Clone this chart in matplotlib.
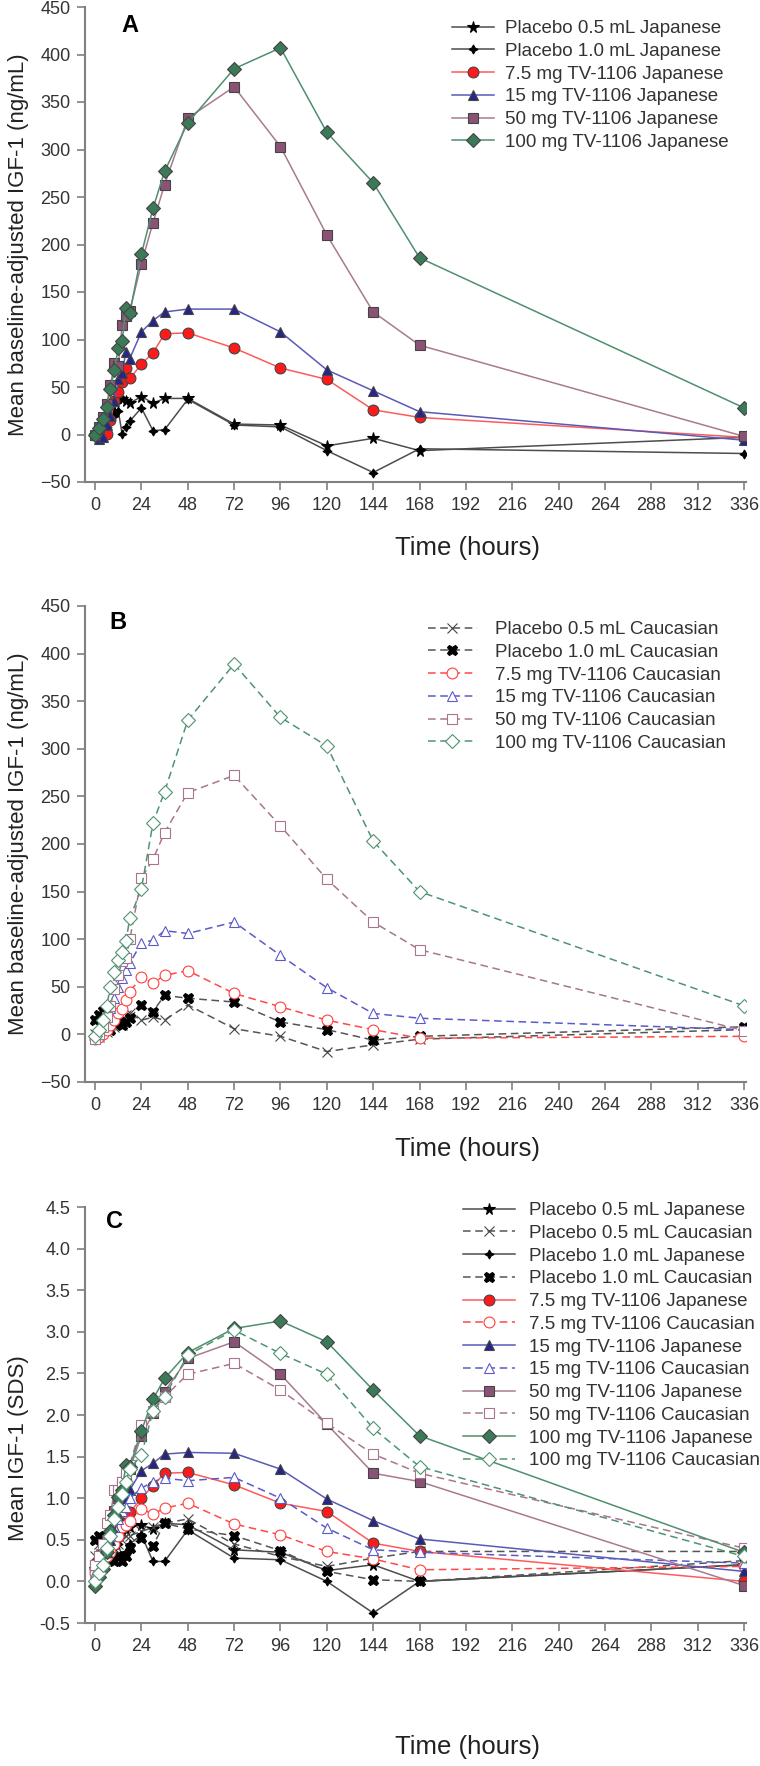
import matplotlib
matplotlib.use("Agg")
import matplotlib.pyplot as plt

plt.rcParams['font.family'] = ['Liberation Sans', 'DejaVu Sans']

# sampling times (hours)
hours = [0, 2, 4, 6, 8, 10, 12, 14, 16, 18, 24, 30, 36, 48, 72, 96, 120, 144, 168, 336]

# Panel A - Japanese, baseline-adjusted IGF-1 (ng/mL)
a_pl05 = [0, 3, 8, 12, 20, 25, 38, 37, 35, 33, 40, 33, 38, 38, 11, 10, -12, -4, -17, -3]
a_pl10 = [0, -2, 2, 8, 15, 20, 25, 1, 8, 14, 28, 4, 5, 37, 10, 8, -17, -40, -15, -20]
a_75 = [0, -3, 0, 1, 15, 35, 45, 55, 70, 59, 74, 86, 106, 107, 91, 70, 58, 26, 18, -3]
a_15 = [0, -5, -3, 10, 20, 35, 58, 65, 87, 80, 108, 120, 129, 132, 132, 108, 68, 46, 24, -6]
a_50 = [0, 8, 18, 32, 52, 75, 72, 115, 125, 130, 180, 223, 263, 333, 366, 303, 210, 129, 94, -2]
a_100 = [0, 7, 16, 29, 48, 68, 91, 98, 133, 128, 190, 238, 277, 328, 385, 407, 318, 265, 186, 28]

# Panel B - Caucasian, baseline-adjusted IGF-1 (ng/mL)
b_pl05 = [0, -3, 5, 2, 10, 8, 15, 10, 20, 22, 15, 18, 15, 31, 6, -2, -18, -11, -5, 5]
b_pl10 = [15, 20, 25, 10, 5, 12, 14, 10, 13, 17, 31, 24, 41, 38, 34, 13, 5, -6, -2, 8]
b_75 = [-5, -3, 0, 5, 10, 15, 22, 27, 36, 45, 60, 54, 62, 67, 43, 29, 15, 5, -4, -2]
b_15 = [0, 5, 10, 18, 28, 38, 50, 59, 68, 75, 96, 99, 109, 106, 118, 83, 49, 22, 17, 5]
b_50 = [-5, 0, 8, 18, 30, 48, 62, 77, 80, 100, 164, 184, 212, 254, 272, 219, 163, 118, 89, 4]
b_100 = [-2, 5, 15, 30, 50, 66, 78, 87, 98, 122, 153, 222, 255, 330, 389, 333, 303, 203, 150, 30]

# Panel C - IGF-1 SDS, both populations
c_pl05_jp = [0.15, 0.25, 0.3, 0.35, 0.4, 0.45, 0.55, 0.6, 0.62, 0.65, 0.68, 0.63, 0.70, 0.68, 0.38, 0.35, 0.13, 0.20, 0.0, 0.2]
c_pl05_ca = [0.3, 0.45, 0.4, 0.3, 0.35, 0.4, 0.45, 0.5, 0.55, 0.55, 0.60, 0.65, 0.70, 0.75, 0.45, 0.30, 0.18, 0.28, 0.36, 0.36]
c_pl10_jp = [0.1, 0.05, 0.15, 0.25, 0.35, 0.4, 0.45, 0.3, 0.35, 0.45, 0.56, 0.24, 0.24, 0.62, 0.28, 0.26, 0.0, -0.38, 0.0, 0.2]
c_pl10_ca = [0.5, 0.55, 0.45, 0.35, 0.3, 0.25, 0.3, 0.25, 0.3, 0.4, 0.52, 0.43, 0.70, 0.63, 0.55, 0.37, 0.12, 0.02, 0.0, 0.25]
c_75_jp = [0.15, 0.2, 0.25, 0.3, 0.4, 0.5, 0.6, 0.7, 0.85, 0.83, 1.00, 1.15, 1.30, 1.31, 1.16, 0.94, 0.84, 0.46, 0.36, 0.0]
c_75_ca = [0.1, 0.15, 0.2, 0.3, 0.35, 0.45, 0.55, 0.65, 0.68, 0.72, 0.87, 0.81, 0.88, 0.94, 0.69, 0.56, 0.36, 0.27, 0.14, 0.18]
c_15_jp = [0.05, 0.1, 0.2, 0.35, 0.5, 0.65, 0.8, 0.9, 1.0, 1.10, 1.33, 1.42, 1.53, 1.55, 1.54, 1.35, 0.99, 0.73, 0.51, 0.12]
c_15_ca = [0.1, 0.15, 0.25, 0.4, 0.55, 0.65, 0.75, 0.85, 0.9, 1.0, 1.12, 1.20, 1.24, 1.21, 1.25, 1.00, 0.64, 0.38, 0.35, 0.22]
c_50_jp = [0.2, 0.3, 0.4, 0.5, 0.65, 0.85, 1.0, 1.2, 1.25, 1.35, 1.75, 2.02, 2.28, 2.68, 2.88, 2.49, 1.89, 1.30, 1.20, -0.05]
c_50_ca = [0.2, 0.3, 0.45, 0.7, 0.8, 1.1, 1.1, 1.2, 1.3, 1.4, 1.88, 2.05, 2.22, 2.49, 2.62, 2.30, 1.90, 1.53, 1.30, 0.40]
c_100_jp = [-0.05, 0.05, 0.15, 0.35, 0.6, 0.8, 1.02, 1.1, 1.4, 1.38, 1.81, 2.19, 2.44, 2.75, 3.04, 3.13, 2.88, 2.30, 1.75, 0.35]
c_100_ca = [0.0, 0.1, 0.2, 0.4, 0.55, 0.75, 0.9, 1.05, 1.2, 1.35, 1.52, 2.05, 2.22, 2.72, 3.02, 2.74, 2.49, 1.84, 1.38, 0.30]

xticks = [0, 24, 48, 72, 96, 120, 144, 168, 192, 216, 240, 264, 288, 312, 336]

# styles: (line colour, marker, face colour, edge colour, marker size)
jp_style = {
    'pl05': ('#4d4d4d', '*', 'black', 'black', 8.5),
    'pl10': ('#4d4d4d', (4, 1, 0), 'black', 'black', 6.5),
    '75': ('#ff5a5a', 'o', '#ff1a1a', '#444444', 7.8),
    '15': ('#5a5ab8', '^', '#25258a', '#444444', 7.8),
    '50': ('#a87a92', 's', '#8a5275', '#444444', 7),
    '100': ('#4f8f6e', 'D', '#3a7a58', '#444444', 7),
}
ca_style = {
    'pl05': ('#555555', 'x', 'none', '#444444', 6.5),
    'pl10': ('#555555', 'X', 'black', 'black', 7.5),
    '75': ('#ff4848', 'o', 'white', '#ff4040', 7.8),
    '15': ('#5a5ac8', '^', 'white', '#5a5ac8', 7.8),
    '50': ('#a8768f', 's', 'white', '#a8748f', 7),
    '100': ('#4f9470', 'D', 'white', '#4f9470', 7),
}
DASH = (5, 3)


def draw(ax, y, st, label, dashed):
    lc, mk, fc, ec, ms = st
    ln, = ax.plot(hours, y, color=lc, lw=1.1, marker=mk, markersize=ms,
                  markerfacecolor=fc, markeredgecolor=ec, markeredgewidth=0.8,
                  label=label)
    if dashed:
        ln.set_dashes(DASH)
    return ln


def style_axes(ax, ylim, yticks, ylabel, xlab_y, ylab_y=0.5, fmt=None):
    ax.set_xlim(-5.2, 337)
    ax.set_ylim(*ylim)
    ax.set_xticks(xticks)
    ax.set_yticks(yticks)
    if fmt:
        ax.set_yticklabels([fmt % v for v in yticks])
    for s in ['top', 'right']:
        ax.spines[s].set_visible(False)
    for s in ['left', 'bottom']:
        ax.spines[s].set_color('#808080')
        ax.spines[s].set_linewidth(1.5)
    ax.tick_params(direction='out', length=5.5, width=1.2, color='#808080',
                   labelsize=13, labelcolor='#333333', pad=5)
    ax.set_xlabel('Time (hours)', fontsize=18.5, color='#222222', va='center')
    ax.xaxis.set_label_coords(0.579, xlab_y)
    ax.set_ylabel(ylabel, fontsize=16, color='#222222', va='center')
    ax.yaxis.set_label_coords(-0.1, ylab_y)


fig = plt.figure(figsize=(7.6, 17.66), dpi=100)
W, H = 760.0, 1766.0


def add_axes(top, bottom):
    return fig.add_axes([85 / W, 1 - bottom / H, (746 - 85) / W, (bottom - top) / H])


def add_legend(ax, x0, y0, hl, htp):
    fig.legend(handles=ax.get_lines(), loc='upper left', bbox_to_anchor=(x0 / W, 1 - y0 / H),
               frameon=False, fontsize=13.5, handlelength=hl, handletextpad=htp,
               labelspacing=0.3, borderpad=0, borderaxespad=0, labelcolor='#333333')


# ---- Panel A
ax = add_axes(7, 482)
draw(ax, a_pl05, jp_style['pl05'], 'Placebo 0.5 mL Japanese', False)
draw(ax, a_pl10, jp_style['pl10'], 'Placebo 1.0 mL Japanese', False)
draw(ax, a_75, jp_style['75'], '7.5 mg TV-1106 Japanese', False)
draw(ax, a_15, jp_style['15'], '15 mg TV-1106 Japanese', False)
draw(ax, a_50, jp_style['50'], '50 mg TV-1106 Japanese', False)
draw(ax, a_100, jp_style['100'], '100 mg TV-1106 Japanese', False)
style_axes(ax, (-50, 450), list(range(-50, 451, 50)),
           'Mean baseline-adjusted IGF-1 (ng/mL)', -0.139)
ax.text(0.068, 0.962, 'A', transform=ax.transAxes, fontsize=17, fontweight='bold',
        ha='center', va='center')
add_legend(ax, 452, 20, 2.25, 0.6)

# ---- Panel B
ax = add_axes(606, 1082)
draw(ax, b_pl05, ca_style['pl05'], 'Placebo 0.5 mL Caucasian', True)
draw(ax, b_pl10, ca_style['pl10'], 'Placebo 1.0 mL Caucasian', True)
draw(ax, b_75, ca_style['75'], '7.5 mg TV-1106 Caucasian', True)
draw(ax, b_15, ca_style['15'], '15 mg TV-1106 Caucasian', True)
draw(ax, b_50, ca_style['50'], '50 mg TV-1106 Caucasian', True)
draw(ax, b_100, ca_style['100'], '100 mg TV-1106 Caucasian', True)
style_axes(ax, (-50, 450), list(range(-50, 451, 50)),
           'Mean baseline-adjusted IGF-1 (ng/mL)', -0.140)
ax.text(0.05, 0.966, 'B', transform=ax.transAxes, fontsize=17, fontweight='bold',
        ha='center', va='center')
add_legend(ax, 428, 621, 2.6, 0.95)

# ---- Panel C
ax = add_axes(1207, 1623)
draw(ax, c_pl05_jp, jp_style['pl05'], 'Placebo 0.5 mL Japanese', False)
draw(ax, c_pl05_ca, ca_style['pl05'], 'Placebo 0.5 mL Caucasian', True)
draw(ax, c_pl10_jp, jp_style['pl10'], 'Placebo 1.0 mL Japanese', False)
draw(ax, c_pl10_ca, ca_style['pl10'], 'Placebo 1.0 mL Caucasian', True)
draw(ax, c_75_jp, jp_style['75'], '7.5 mg TV-1106 Japanese', False)
draw(ax, c_75_ca, ca_style['75'], '7.5 mg TV-1106 Caucasian', True)
draw(ax, c_15_jp, jp_style['15'], '15 mg TV-1106 Japanese', False)
draw(ax, c_15_ca, ca_style['15'], '15 mg TV-1106 Caucasian', True)
draw(ax, c_50_jp, jp_style['50'], '50 mg TV-1106 Japanese', False)
draw(ax, c_50_ca, ca_style['50'], '50 mg TV-1106 Caucasian', True)
draw(ax, c_100_jp, jp_style['100'], '100 mg TV-1106 Japanese', False)
draw(ax, c_100_ca, ca_style['100'], '100 mg TV-1106 Caucasian', True)
cticks = [-0.5, 0.0, 0.5, 1.0, 1.5, 2.0, 2.5, 3.0, 3.5, 4.0, 4.5]
style_axes(ax, (-0.5, 4.5), cticks, 'Mean IGF-1 (SDS)', -0.298, ylab_y=0.42, fmt='%.1f')
ax.text(0.045, 0.964, 'C', transform=ax.transAxes, fontsize=17, fontweight='bold',
        ha='center', va='center')
add_legend(ax, 463, 1202, 2.8, 0.7)

fig.savefig('out.png', dpi=100)
